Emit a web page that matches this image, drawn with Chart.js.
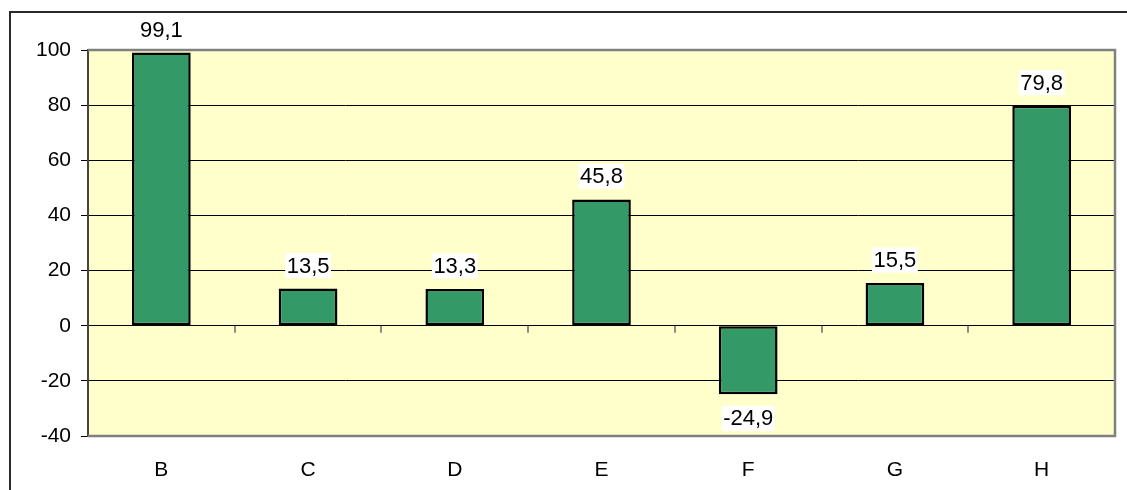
<!DOCTYPE html>
<html>
<head>
<meta charset="utf-8">
<script src="https://cdn.jsdelivr.net/npm/chart.js@4/dist/chart.umd.min.js"></script>
<style>
  html, body { margin: 0; padding: 0; background: #fff; }
  #wrap { width: 1127px; height: 490px; position: relative; }
</style>
</head>
<body>
<div id="wrap"><canvas id="chart" width="1127" height="490"></canvas></div>
<script>
// ── Data ──────────────────────────────────────────────────
const categories = ['B', 'C', 'D', 'E', 'F', 'G', 'H'];
const values     = [99.1, 13.5, 13.3, 45.8, -24.9, 15.5, 79.8];
const yTicks     = [-40, -20, 0, 20, 40, 60, 80, 100];

const FONT = '"Liberation Sans", Arial, sans-serif';
const fmt = v => String(v).replace('.', ',');

// ── Plugins ───────────────────────────────────────────────
const framePlugin = {
  id: 'frame',
  beforeDraw(chart) {
    const { ctx, chartArea: a } = chart;
    ctx.save();
    // outer chart border (top + left visible)
    ctx.strokeStyle = '#2a2a2a';
    ctx.lineWidth = 2;
    ctx.beginPath();
    ctx.moveTo(10, 490);
    ctx.lineTo(10, 12);
    ctx.lineTo(1127, 12);
    ctx.stroke();
    // plot area fill
    ctx.fillStyle = '#FFFFCC';
    ctx.fillRect(a.left, a.top, a.right - a.left, a.bottom - a.top);
    ctx.restore();
  },
  beforeDatasetsDraw(chart) {
    const { ctx, chartArea: a, scales } = chart;
    ctx.save();
    // gray plot frame: top, right, bottom
    ctx.strokeStyle = '#808080';
    ctx.lineWidth = 2.5;
    ctx.beginPath();
    ctx.moveTo(a.left, a.top);
    ctx.lineTo(a.right, a.top);
    ctx.lineTo(a.right, a.bottom);
    ctx.lineTo(a.left, a.bottom);
    ctx.stroke();
    // category ticks on the zero line
    const x = scales.x, y0 = scales.y.getPixelForValue(0);
    ctx.strokeStyle = '#666';
    ctx.lineWidth = 1.5;
    ctx.beginPath();
    for (let i = 0; i < categories.length - 1; i++) {
      const px = Math.round((x.getPixelForTick(i) + x.getPixelForTick(i + 1)) / 2);
      ctx.moveTo(px, y0);
      ctx.lineTo(px, y0 + 7);
    }
    ctx.stroke();
    ctx.restore();
  },
  afterDatasetsDraw(chart) {
    const { ctx } = chart;
    const meta = chart.getDatasetMeta(0);
    ctx.save();
    ctx.font = '22px ' + FONT;
    ctx.textAlign = 'center';
    ctx.textBaseline = 'middle';
    meta.data.forEach((bar, i) => {
      const v = values[i];
      const txt = fmt(v);
      const w = ctx.measureText(txt).width + 3;
      const cy = v >= 0 ? bar.y - 23 : bar.y + 24;
      ctx.fillStyle = '#fff';
      ctx.fillRect(bar.x - w / 2, cy - 12.5, w, 25);
      ctx.fillStyle = '#000';
      ctx.fillText(txt, bar.x, cy + 1);
    });
    ctx.restore();
  }
};

// ── Chart ─────────────────────────────────────────────────
new Chart(document.getElementById('chart'), {
  type: 'bar',
  data: {
    labels: categories,
    datasets: [{
      data: values,
      backgroundColor: '#339966',
      borderColor: '#000',
      borderWidth: 2.5,
      borderSkipped: false,
      barPercentage: 0.4,
      categoryPercentage: 1
    }]
  },
  options: {
    responsive: false,
    animation: false,
    layout: { padding: { top: 50, right: 12, left: 0, bottom: 0 } },
    plugins: { legend: { display: false }, tooltip: { enabled: false } },
    scales: {
      x: {
        afterFit: s => { s.height = 54; },
        grid: { display: false },
        border: { display: false },
        ticks: { color: '#000', padding: 14, font: { family: FONT, size: 21 } }
      },
      y: {
        min: -40, max: 100,
        afterFit: s => { s.width = 88; },
        afterBuildTicks: s => { s.ticks = yTicks.map(v => ({ value: v })); },
        grid: {
          color: c => (c.tick && (c.tick.value === 100 || c.tick.value === -40)) ? '#808080' : '#000',
          lineWidth: 1,
          tickColor: '#000',
          tickLength: 7
        },
        border: { color: '#444', width: 2 },
        ticks: { color: '#000', padding: 10, font: { family: FONT, size: 21 } }
      }
    }
  },
  plugins: [framePlugin]
});
</script>
</body>
</html>
